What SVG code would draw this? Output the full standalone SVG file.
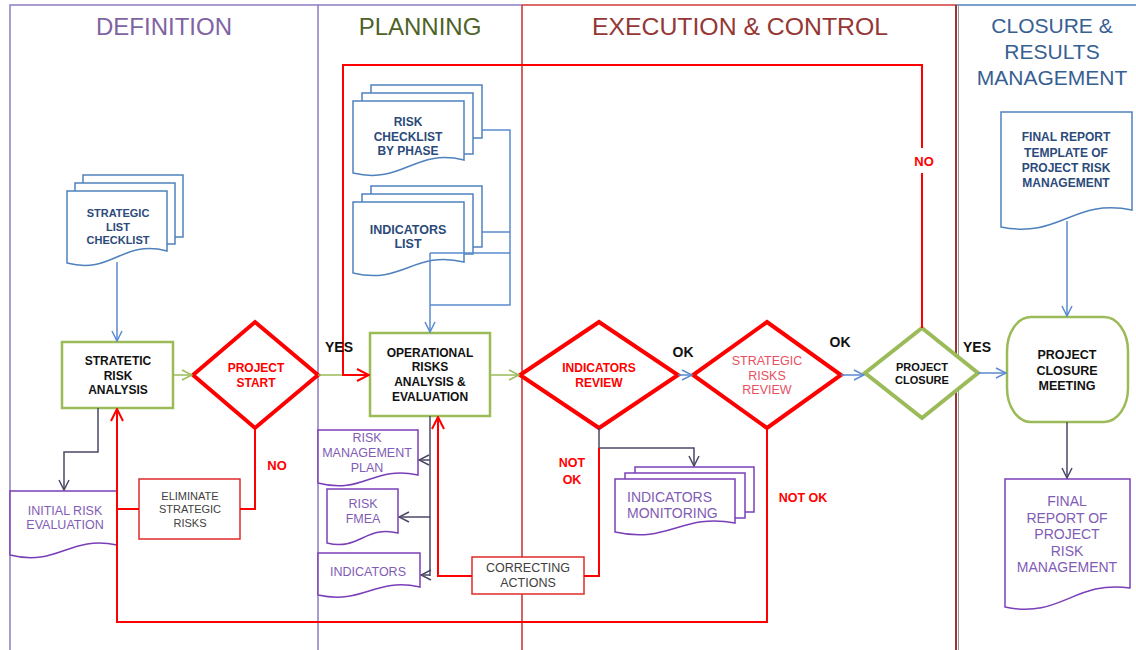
<svg xmlns="http://www.w3.org/2000/svg" width="1136" height="650" viewBox="0 0 1136 650">
<style>
text{font-family:"Liberation Sans",Arial,sans-serif;text-anchor:middle}
.hd{font-size:24px}
.hc{font-size:21px;fill:#376092}
.bx{fill:#fff;stroke:#9BBB59;stroke-width:2.5}
.dr{fill:#fff;stroke:#f00;stroke-width:4}
.dg{fill:#fff;stroke:#9BBB59;stroke-width:4}
.rb{fill:#fff;stroke:#e02a2a;stroke-width:1.5}
.bd{fill:#fff;stroke:#4F81BD;stroke-width:1.5}
.pd{fill:#fff;stroke:#7a3fb8;stroke-width:1.5}
.tb{font-size:12px;font-weight:bold;fill:#111}
.tr{font-size:12px;font-weight:bold;fill:#f00}
.tbl{font-size:12px;font-weight:bold;fill:#2c4a7a}
.tp{font-size:12.5px;fill:#7f5cb5}
.tg{font-size:11px;fill:#404040}
.lb{font-size:14px;font-weight:bold;fill:#111}
.lr{font-size:13px;font-weight:bold;fill:#f00}
.c{fill:none;stroke-width:1.5}
.cb{stroke:#5a8ad0}
.cg{stroke:#9BBB59}
.cr{stroke:#f00;stroke-width:2}
.cd{stroke:#4a4866}
.lane{fill:none;stroke-width:1.5}
</style>
<defs>
<marker id="mB" markerUnits="userSpaceOnUse" markerWidth="12" markerHeight="12" viewBox="0 0 12 12" refX="11" refY="6" orient="auto"><path d="M1,1 L11,6 L1,11" fill="none" stroke="#5a8ad0" stroke-width="1.5"/></marker>
<marker id="mG" markerUnits="userSpaceOnUse" markerWidth="12" markerHeight="12" viewBox="0 0 12 12" refX="11" refY="6" orient="auto"><path d="M1,1 L11,6 L1,11" fill="none" stroke="#9BBB59" stroke-width="1.5"/></marker>
<marker id="mR" markerUnits="userSpaceOnUse" markerWidth="14" markerHeight="14" viewBox="0 0 14 14" refX="13" refY="7" orient="auto"><path d="M1,1 L13,7 L1,13" fill="none" stroke="#f00" stroke-width="2"/></marker>
<marker id="mD" markerUnits="userSpaceOnUse" markerWidth="12" markerHeight="12" viewBox="0 0 12 12" refX="11" refY="6" orient="auto"><path d="M1,1 L11,6 L1,11" fill="none" stroke="#4a4866" stroke-width="1.5"/></marker>
</defs>

<g id="lanes">
<rect x="10" y="5" width="308" height="660" class="lane" stroke="#8e7cc3"/>
<line x1="318" y1="5" x2="522" y2="5" class="lane" stroke="#8e7cc3"/>
<line x1="522" y1="5" x2="957" y2="5" class="lane" stroke="#d03a3a"/>
<line x1="522" y1="5" x2="522" y2="650" class="lane" stroke="#c0302e"/>
<line x1="957" y1="5" x2="1136" y2="5" class="lane" stroke="#4F81BD"/>
<line x1="956" y1="5" x2="956" y2="650" stroke="#953735" stroke-width="2"/>
<line x1="958.5" y1="5" x2="958.5" y2="650" stroke="#9a9a9a" stroke-width="1"/>
<text x="164" y="35" class="hd" fill="#8064A2">DEFINITION</text>
<text x="420" y="35" class="hd" fill="#4F6228">PLANNING</text>
<text x="740" y="35" class="hd" fill="#953735" style="font-size:24.8px">EXECUTION &amp; CONTROL</text>
<text x="1052" y="33" class="hc">CLOSURE &amp;</text>
<text x="1052" y="59" class="hc">RESULTS</text>
<text x="1052" y="85" class="hc">MANAGEMENT</text>
</g>

<g id="strategic-list-checklist">
<rect x="83" y="175" width="100" height="62" class="bd"/>
<rect x="75" y="183" width="100" height="61" class="bd"/>
<path d="M67,191 H167 V251 C122,239 112,275 67,263 Z" class="bd"/>
<text x="118" y="217" class="tbl" style="font-size:11px">STRATEGIC</text>
<text x="118" y="231" class="tbl" style="font-size:11px">LIST</text>
<text x="118" y="244" class="tbl" style="font-size:11px">CHECKLIST</text>
</g>

<g id="strategic-risk-analysis">
<rect x="62" y="342" width="111" height="66" class="bx"/>
<text x="118" y="365" class="tb">STRATETIC</text>
<text x="118" y="380" class="tb">RISK</text>
<text x="118" y="394" class="tb">ANALYSIS</text>
</g>

<g id="project-start">
<polygon points="255,322 318,375 255,428 193,375" class="dr"/>
<text x="256" y="372" class="tr">PROJECT</text>
<text x="256" y="387" class="tr">START</text>
</g>

<g id="eliminate-strategic-risks">
<rect x="139" y="479" width="101" height="60" class="rb"/>
<text x="190" y="500" class="tg">ELIMINATE</text>
<text x="190" y="513" class="tg">STRATEGIC</text>
<text x="190" y="527" class="tg">RISKS</text>
</g>

<g id="initial-risk-evaluation">
<path d="M10,491 H117 V545 C69,535 58,567 10,555 Z" class="pd"/>
<text x="65" y="515" class="tp">INITIAL RISK</text>
<text x="65" y="529" class="tp">EVALUATION</text>
</g>

<g id="risk-checklist-by-phase">
<rect x="371" y="85" width="111" height="53" class="bd"/>
<rect x="362" y="93" width="111" height="61" class="bd"/>
<path d="M353,101 H464 V160 C414,148 403,185 353,173 Z" class="bd"/>
<text x="408" y="126" class="tbl">RISK</text>
<text x="408" y="141" class="tbl">CHECKLIST</text>
<text x="408" y="155" class="tbl">BY PHASE</text>
</g>

<g id="indicators-list">
<rect x="371" y="186" width="111" height="61" class="bd"/>
<rect x="362" y="194" width="111" height="60" class="bd"/>
<path d="M353,202 H464 V262 C414,250 403,285 353,273 Z" class="bd"/>
<text x="408" y="234" class="tbl" style="font-size:12.5px">INDICATORS</text>
<text x="408" y="248" class="tbl" style="font-size:12.5px">LIST</text>
</g>

<g id="operational-risks">
<rect x="370" y="333" width="120" height="83" class="bx"/>
<text x="430" y="357" class="tb">OPERATIONAL</text>
<text x="430" y="371" class="tb">RISKS</text>
<text x="430" y="386" class="tb">ANALYSIS &amp;</text>
<text x="430" y="401" class="tb">EVALUATION</text>
</g>

<g id="risk-management-plan">
<path d="M318,430 H418 V475 C373,465 363,495 318,483 Z" class="pd"/>
<text x="367" y="442" class="tp">RISK</text>
<text x="367" y="457" class="tp">MANAGEMENT</text>
<text x="367" y="472" class="tp">PLAN</text>
</g>

<g id="risk-fmea">
<path d="M327,489 H398 V533 C366,525 359,551 327,543 Z" class="pd"/>
<text x="363" y="508" class="tp">RISK</text>
<text x="363" y="523" class="tp">FMEA</text>
</g>

<g id="indicators">
<path d="M318,553 H420 V587 C374,577 364,605 318,595 Z" class="pd"/>
<text x="368" y="576" class="tp">INDICATORS</text>
</g>

<g id="correcting-actions">
<rect x="472" y="557" width="112" height="37" class="rb"/>
<text x="528" y="572" class="tg" style="font-size:12.5px">CORRECTING</text>
<text x="528" y="587" class="tg" style="font-size:12.5px">ACTIONS</text>
</g>

<g id="indicators-review">
<polygon points="599,322 678,375 599,428 520,375" class="dr"/>
<text x="599" y="372" class="tr">INDICATORS</text>
<text x="599" y="387" class="tr">REVIEW</text>
</g>

<g id="indicators-monitoring">
<rect x="635" y="467" width="119" height="45" class="pd"/>
<rect x="625" y="473" width="120" height="45" class="pd"/>
<path d="M615,479 H735 V523 C681,513 669,544 615,532 Z" class="pd"/>
<text x="627" y="502" class="tp" style="font-size:14px;text-anchor:start">INDICATORS</text>
<text x="627" y="518" class="tp" style="font-size:14px;text-anchor:start">MONITORING</text>
</g>

<g id="strategic-risks-review">
<polygon points="767,322 841,375 767,428 693,375" class="dr"/>
<text x="767" y="365" style="font-size:12.5px;fill:#e8505f">STRATEGIC</text>
<text x="767" y="380" style="font-size:12.5px;fill:#e8505f">RISKS</text>
<text x="767" y="394" style="font-size:12.5px;fill:#e8505f">REVIEW</text>
</g>

<g id="project-closure">
<polygon points="922,328 978,373 922,418 865,373" class="dg"/>
<text x="922" y="371" class="tb" style="font-size:11px">PROJECT</text>
<text x="922" y="384" class="tb" style="font-size:11px">CLOSURE</text>
</g>

<g id="final-report-template">
<path d="M1001,112 H1132 V210 C1073,198 1060,239 1001,227 Z" class="bd"/>
<text x="1066" y="141" class="tbl">FINAL REPORT</text>
<text x="1066" y="157" class="tbl">TEMPLATE OF</text>
<text x="1066" y="172" class="tbl">PROJECT RISK</text>
<text x="1066" y="187" class="tbl">MANAGEMENT</text>
</g>

<g id="project-closure-meeting">
<rect x="1007" y="317" width="121" height="105" rx="24" ry="34" class="bx"/>
<text x="1067" y="359" class="tb" style="font-size:12.5px">PROJECT</text>
<text x="1067" y="375" class="tb" style="font-size:12.5px">CLOSURE</text>
<text x="1067" y="390" class="tb" style="font-size:12.5px">MEETING</text>
</g>

<g id="final-report">
<path d="M1005,479 H1130 V588 C1074,580 1061,619 1005,607 Z" class="pd"/>
<text x="1067" y="506" class="tp" style="font-size:14px">FINAL</text>
<text x="1067" y="522.5" class="tp" style="font-size:14px">REPORT OF</text>
<text x="1067" y="539" class="tp" style="font-size:14px">PROJECT</text>
<text x="1067" y="555.5" class="tp" style="font-size:14px">RISK</text>
<text x="1067" y="572" class="tp" style="font-size:14px">MANAGEMENT</text>
</g>

<g id="connectors">
<path d="M117,262 V341" class="c cb" marker-end="url(#mB)"/>
<path d="M173,375 H192" class="c cg" marker-end="url(#mG)"/>
<path d="M318,375 H343" class="c cg"/>
<path d="M922,328 V173 M922,148 V65 H343 V375 H369" class="c cr" marker-end="url(#mR)"/>
<path d="M255,428 V509 H240" class="c cr"/>
<path d="M139,509 H117" class="c cr"/>
<path d="M767,428 V622 H117 V409" class="c cr" marker-end="url(#mR)"/>
<path d="M98,408 V452 H64 V490" class="c cd" marker-end="url(#mD)"/>
<path d="M482,130 H510 V305 H430 M482,232 H510 M430,253 H510" class="c cb"/>
<path d="M430,253 V332" class="c cb" marker-end="url(#mB)"/>
<path d="M490,375 H519" class="c cg" marker-end="url(#mG)"/>
<path d="M430,416 V576" class="c cd"/>
<path d="M430,460 H419" class="c cd" marker-end="url(#mD)"/>
<path d="M430,517 H399" class="c cd" marker-end="url(#mD)"/>
<path d="M430,575 H421" class="c cd" marker-end="url(#mD)"/>
<path d="M472,576 H438 V417" class="c cr" marker-end="url(#mR)"/>
<path d="M599,428 V448 H694 V466" class="c cd" marker-end="url(#mD)"/>
<path d="M599,448 V576 H584" class="c cr"/>
<path d="M678,375 H692" class="c cb" marker-end="url(#mB)"/>
<path d="M841,375 H864" class="c cb" marker-end="url(#mB)"/>
<path d="M978,373 H1006" class="c cb" marker-end="url(#mB)"/>
<path d="M1067,221 V316" class="c cb" marker-end="url(#mB)"/>
<path d="M1067,422 V478" class="c cd" marker-end="url(#mD)"/>
</g>

<g id="labels">
<text x="339" y="352" class="lb">YES</text>
<text x="277" y="470" class="lr">NO</text>
<text x="924" y="166" class="lr">NO</text>
<text x="683" y="357" class="lb">OK</text>
<text x="840" y="347" class="lb">OK</text>
<text x="977" y="352" class="lb">YES</text>
<text x="572" y="467" class="lr" style="font-size:12.5px">NOT</text>
<text x="572" y="484" class="lr" style="font-size:12.5px">OK</text>
<text x="803" y="502" class="lr" style="font-size:12.5px">NOT OK</text>
</g>
</svg>
